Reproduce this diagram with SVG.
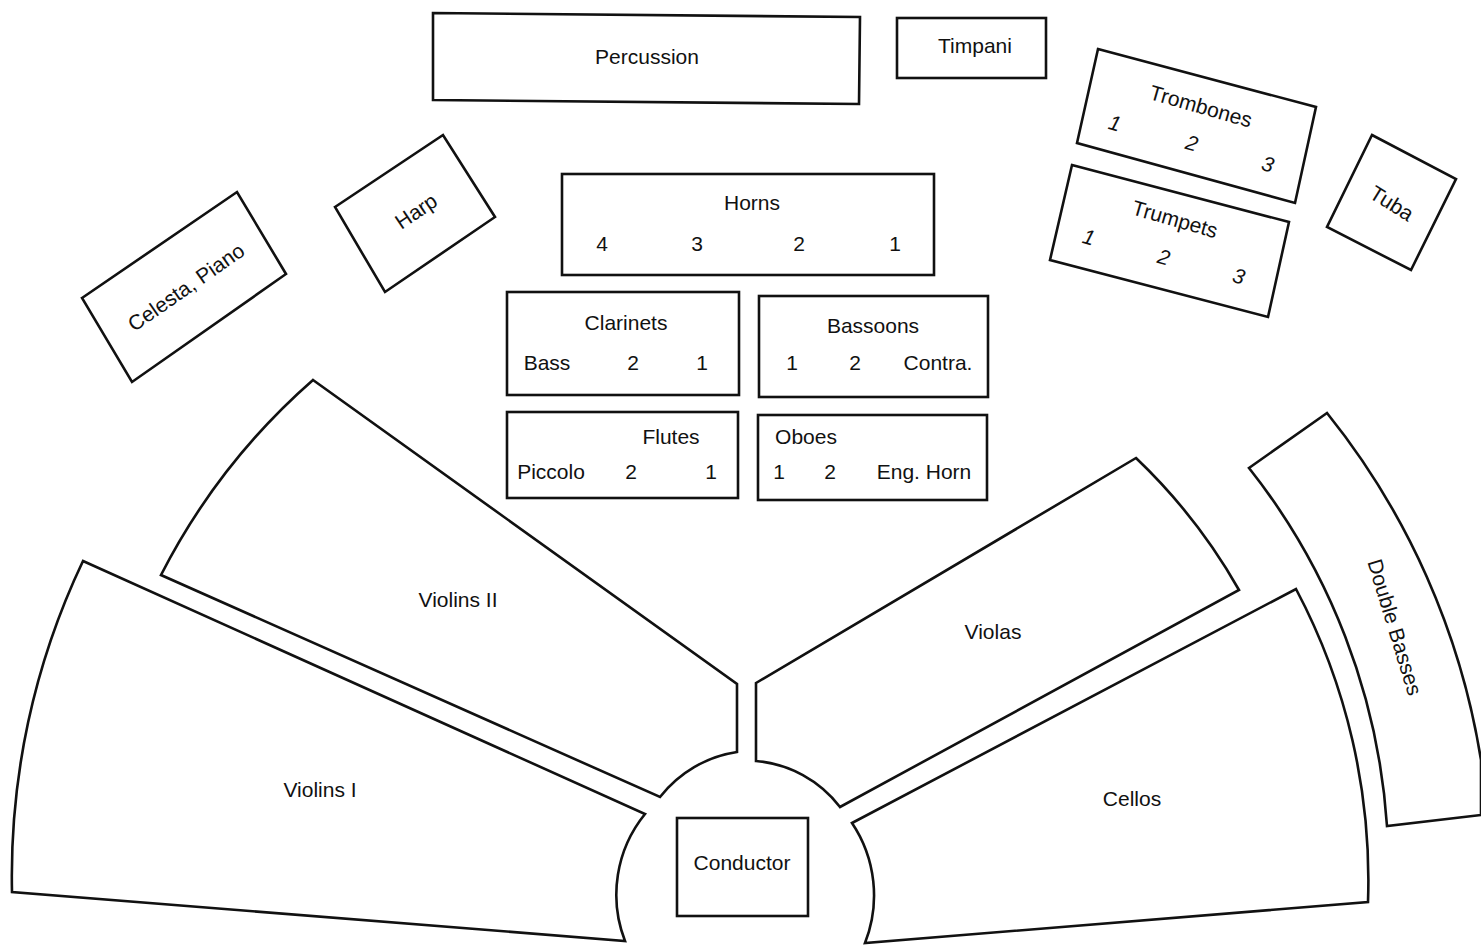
<svg xmlns="http://www.w3.org/2000/svg" width="1481" height="945" viewBox="0 0 1481 945">
<style>
.s{fill:#fff;stroke:#111;stroke-width:2.6;stroke-linejoin:miter}
.t{font-family:"Liberation Sans",Arial,sans-serif;font-size:21px;fill:#111;text-anchor:middle}
.c{dominant-baseline:central}
.i{font-style:italic}
</style>
<rect width="1481" height="945" fill="#fff"/>
<g id="connectors"></g>
<g id="percussion"><polygon class="s" points="433,13 860,17 859,104 433,100"/><text class="t" x="647" y="64">Percussion</text></g>
<g id="timpani"><rect class="s" x="897" y="18" width="149" height="60"/><text class="t" x="975" y="53">Timpani</text></g>
<g id="celesta"><polygon class="s" points="82,298 237,192 286,274 132,382"/><text class="t c" x="186" y="287" font-size="19" transform="rotate(-35 186 287)">Celesta, Piano</text></g>
<g id="harp"><polygon class="s" points="335,207 443,135 495,217 385,292"/><text class="t c" x="416" y="211" font-size="19" transform="rotate(-34 416 211)">Harp</text></g>
<g id="horns"><rect class="s" x="562" y="174" width="372" height="101"/><text class="t" x="752" y="210">Horns</text><text class="t" x="602" y="251">4</text><text class="t" x="697" y="251">3</text><text class="t" x="799" y="251">2</text><text class="t" x="895" y="251">1</text></g>
<g id="clarinets"><rect class="s" x="507" y="292" width="232" height="103"/><text class="t" x="626" y="330">Clarinets</text><text class="t" x="547" y="370">Bass</text><text class="t" x="633" y="370">2</text><text class="t" x="702" y="370">1</text></g>
<g id="bassoons"><rect class="s" x="759" y="296" width="229" height="101"/><text class="t" x="873" y="333">Bassoons</text><text class="t" x="792" y="370">1</text><text class="t" x="855" y="370">2</text><text class="t" x="938" y="370">Contra.</text></g>
<g id="flutes"><rect class="s" x="507" y="412" width="231" height="86"/><text class="t" x="671" y="444">Flutes</text><text class="t" x="551" y="479">Piccolo</text><text class="t" x="631" y="479">2</text><text class="t" x="711" y="479">1</text></g>
<g id="oboes"><rect class="s" x="758" y="415" width="229" height="85"/><text class="t" x="806" y="444">Oboes</text><text class="t" x="779" y="479">1</text><text class="t" x="830" y="479">2</text><text class="t" x="924" y="479">Eng. Horn</text></g>
<g id="trombones"><polygon class="s" points="1098,49 1316,107 1295,203 1077,143"/><text class="t c" x="1201" y="106" transform="rotate(16 1201 106)">Trombones</text><text class="t c i" x="1115" y="123" transform="rotate(16 1115 123)">1</text><text class="t c i" x="1192" y="143" transform="rotate(16 1192 143)">2</text><text class="t c i" x="1268" y="164" transform="rotate(16 1268 164)">3</text></g>
<g id="trumpets"><polygon class="s" points="1072,165 1289,222 1268,317 1050,260"/><text class="t c" x="1175" y="219" transform="rotate(16 1175 219)">Trumpets</text><text class="t c i" x="1089" y="237" transform="rotate(16 1089 237)">1</text><text class="t c i" x="1164" y="257" transform="rotate(16 1164 257)">2</text><text class="t c i" x="1239" y="276" transform="rotate(16 1239 276)">3</text></g>
<g id="tuba"><polygon class="s" points="1372,135 1456,179 1411,270 1327,227"/><text class="t c" x="1392" y="203" font-size="19" transform="rotate(32 1392 203)">Tuba</text></g>
<g id="violins2"><path class="s" d="M313,380 L737,684 L737,752 A120,120 0 0 0 660,797 L161,575 A657,657 0 0 1 313,380 Z"/><text class="t" x="458" y="607">Violins II</text></g>
<g id="violins1"><path class="s" d="M83,561 L645,814 A128,128 0 0 0 625,941 L12,892 A733,733 0 0 1 83,561 Z"/><text class="t" x="320" y="797">Violins I</text></g>
<g id="violas"><path class="s" d="M756,683 L1136,458 A571,571 0 0 1 1239,590 L840,807 A118,118 0 0 0 756,761 Z"/><text class="t" x="993" y="639">Violas</text></g>
<g id="cellos"><path class="s" d="M852,823 L1296,589 A622,622 0 0 1 1368,902 L865,943 A130,130 0 0 0 852,823 Z"/><text class="t" x="1132" y="806">Cellos</text></g>
<g id="basses"><path class="s" d="M1327,413 L1249,468 A646,646 0 0 1 1387,826 L1481,815 L1481,760 A740,740 0 0 0 1327,413 Z"/><text class="t c" x="1395" y="627" transform="rotate(73 1395 627)">Double Basses</text></g>
<g id="conductor"><rect class="s" x="677" y="818" width="131" height="98"/><text class="t" x="742" y="870" font-size="22">Conductor</text></g>
</svg>
